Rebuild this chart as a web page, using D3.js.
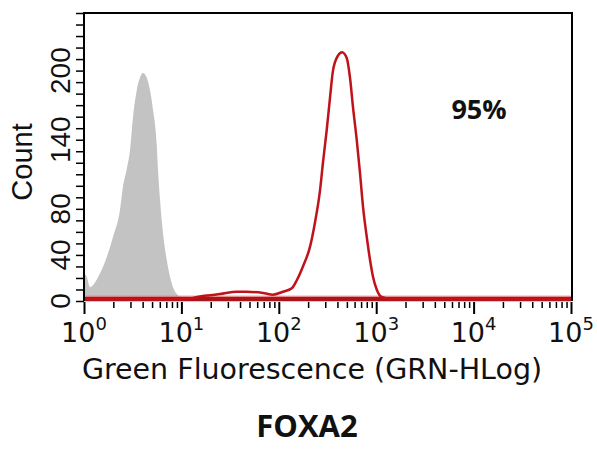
<!DOCTYPE html>
<html>
<head>
<meta charset="utf-8">
<script src="https://cdn.jsdelivr.net/npm/d3@7"></script>
<style>
  body { margin: 0; background: #fff; }
  svg { display: block; }
</style>
</head>
<body>
<div id="chart-area"></div>
<script>
// grey (unstained control) histogram, fluorescence value vs count
const greyX = [1.0, 1.066, 1.152, 1.297, 1.46, 1.71, 1.99, 2.34, 2.51, 2.74, 2.97, 3.19, 3.48, 3.76, 4.03,
    4.40, 4.76, 5.11, 5.57, 5.75, 6.03, 6.47, 7.06, 7.64, 8.20, 9.23, 10.07, 12];
const greyCount = [24, 21, 12, 16, 24, 38, 56, 79, 99, 114, 131, 160, 183, 194, 198,
    194, 183, 166, 137, 114, 88, 59, 36, 21, 12, 5, 3.5, 0];

// red (FOXA2 stained) histogram
const redX = [1, 10, 13, 15.5, 19.7, 24.9, 37, 46.8, 68.8, 87.2, 110, 136, 153, 177, 209, 235, 265, 284,
    310, 336, 360, 405, 446, 498, 538, 578, 631, 682, 732, 799, 863, 927, 1012, 1138, 1386, 100000];
const redCount = [1.5, 1.5, 2.5, 4, 5, 6, 8, 8, 7, 5.5, 8, 11, 18, 30, 47, 68, 96, 120,
    148, 177, 200, 213, 216, 211, 194, 168, 140, 111, 82, 56, 36, 21, 10, 3.5, 2, 1.5];

const yLabels = [0, 40, 80, 140, 200];
const xDecades = [1, 10, 100, 1000, 10000, 100000];
const xExponents = ['0', '1', '2', '3', '4', '5'];

const width = 597;
const height = 450;
const mLeft = 84, mRight = 572, mTop = 13, mBottom = 301;

let svg = d3.select('#chart-area').append('svg').attr('width', width).attr('height', height);

let x = d3.scaleLog().domain([1, 100000]).range([mLeft, mRight - 1]);
let y = d3.scaleLinear().domain([0, 250]).range([mBottom, mTop]);

let grey = greyX.map((v, i) => { return { x: v, c: greyCount[i] }; });
let red = redX.map((v, i) => { return { x: v, c: redCount[i] }; });

let area = d3.area()
    .x((d) => { return x(d.x); })
    .y0(y(0))
    .y1((d) => { return y(d.c); })
    .curve(d3.curveMonotoneX);

let line = d3.line()
    .x((d) => { return x(d.x); })
    .y((d) => { return y(d.c); })
    .curve(d3.curveMonotoneX);

svg.append('path').datum(grey)
    .attr('d', area)
    .attr('fill', '#c3c3c3');

// thick red band along the baseline
svg.append('line')
    .attr('x1', x(1)).attr('x2', x(100000))
    .attr('y1', y(0) - 2).attr('y2', y(0) - 2)
    .attr('stroke', '#ad141a').attr('stroke-width', 4.5);
svg.append('line')
    .attr('x1', x(1)).attr('x2', x(100000))
    .attr('y1', y(0) - 4.8).attr('y2', y(0) - 4.8)
    .attr('stroke', '#e27a7a').attr('stroke-width', 1);

svg.append('path').datum(red)
    .attr('d', line)
    .attr('fill', 'none')
    .attr('stroke', '#c0121a')
    .attr('stroke-width', 2.5)
    .attr('stroke-linejoin', 'round');

// frame
svg.append('path')
    .attr('d', `M${mLeft},${mBottom}V${mTop}H${mRight}V${mBottom}`)
    .attr('fill', 'none')
    .attr('stroke', '#000')
    .attr('stroke-width', 2);

// y axis ticks every 10
let yAxis = svg.append('g')
    .attr('transform', `translate(${mLeft},0)`)
    .call(d3.axisLeft(y).tickValues(d3.range(0, 251, 10)).tickSize(8).tickFormat(''));
yAxis.select('.domain').remove();
yAxis.selectAll('line').attr('stroke', '#000').attr('stroke-width', 1.5);

svg.selectAll('.ylab').data(yLabels).enter().append('text')
    .attr('class', 'ylab')
    .attr('transform', (d) => { return `translate(70,${y(d)}) rotate(-90)`; })
    .attr('text-anchor', 'middle')
    .attr('font-family', 'Liberation Sans, Arial, sans-serif')
    .attr('font-size', 28)
    .attr('fill', '#111')
    .text((d) => { return d; });

// x axis: minor and major ticks
let minor = [];
xDecades.slice(0, 5).forEach((d) => { for (let k = 2; k <= 9; k++) minor.push(d * k); });

let xMinor = svg.append('g')
    .attr('transform', `translate(0,${mBottom + 1})`)
    .call(d3.axisBottom(x).tickValues(minor).tickSize(6).tickFormat(''));
xMinor.select('.domain').remove();
xMinor.selectAll('line').attr('stroke', '#000').attr('stroke-width', 1.5);

let xMajor = svg.append('g')
    .attr('transform', `translate(0,${mBottom + 1})`)
    .call(d3.axisBottom(x).tickValues(xDecades).tickSize(12).tickFormat(''));
xMajor.select('.domain').remove();
xMajor.selectAll('line').attr('stroke', '#000').attr('stroke-width', 2);

let xl = svg.selectAll('.xlab').data(xDecades).enter().append('text')
    .attr('class', 'xlab')
    .attr('x', (d) => { return x(d); })
    .attr('y', 342)
    .attr('text-anchor', 'middle')
    .attr('font-family', 'DejaVu Sans, Verdana, sans-serif')
    .attr('font-size', 27)
    .attr('fill', '#111');
xl.append('tspan').text('10');
xl.append('tspan')
    .attr('dy', -12)
    .attr('font-size', 18)
    .text((d, i) => { return xExponents[i]; });

svg.append('text')
    .attr('x', 312).attr('y', 379)
    .attr('text-anchor', 'middle')
    .attr('font-family', 'DejaVu Sans, Verdana, sans-serif')
    .attr('font-size', 28.5)
    .attr('fill', '#111')
    .text('Green Fluorescence (GRN-HLog)');

svg.append('text')
    .attr('transform', 'translate(32,162) rotate(-90)')
    .attr('text-anchor', 'middle')
    .attr('font-family', 'Liberation Sans, Arial, sans-serif')
    .attr('font-size', 29)
    .attr('fill', '#111')
    .text('Count');

svg.append('text')
    .attr('x', 479).attr('y', 119)
    .attr('text-anchor', 'middle')
    .attr('font-family', 'Open Sans, sans-serif')
    .attr('font-weight', 'bold')
    .attr('font-size', 27)
    .attr('fill', '#111')
    .text('95%');

svg.append('text')
    .attr('x', 307).attr('y', 437)
    .attr('text-anchor', 'middle')
    .attr('font-family', 'Open Sans, sans-serif')
    .attr('font-weight', 'bold')
    .attr('font-size', 31)
    .attr('fill', '#111')
    .text('FOXA2');
</script>
</body>
</html>
